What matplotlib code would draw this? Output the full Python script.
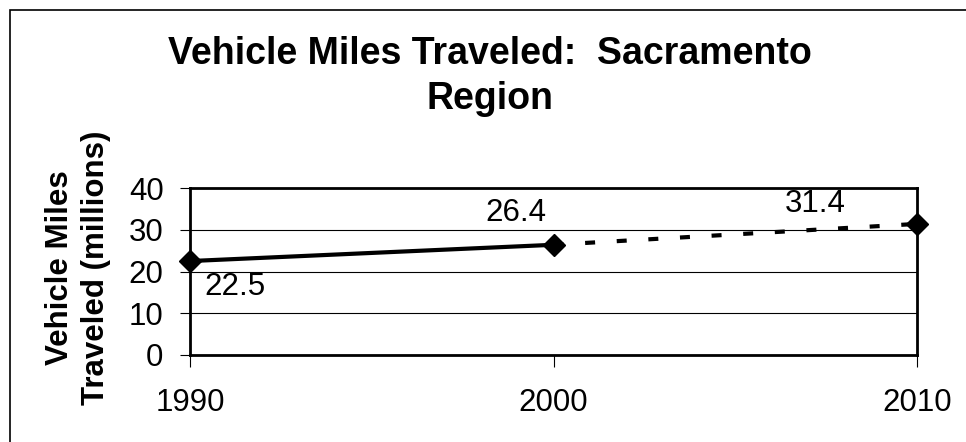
import matplotlib.pyplot as plt
from matplotlib.patches import Rectangle

plt.rcParams['font.family'] = ['Liberation Sans', 'DejaVu Sans']

# data
years = [1990, 2000, 2010]
vmt = [22.5, 26.4, 31.4]
labels = ['22.5', '26.4', '31.4']
label_offsets = [(32, -19), (-27, 23), (-73, 14)]

fig = plt.figure(figsize=(9.66, 4.42), dpi=100)
ax = fig.add_axes([190 / 966, 1 - 355 / 442, (917 - 190) / 966, (355 - 188) / 442])

# frame around the whole chart (right/bottom edges fall outside the image)
fig.patches.append(Rectangle((10 / 966, -0.2), 1.2, 1.2 - 10 / 442, transform=fig.transFigure,
                             fill=False, edgecolor='black', linewidth=1.2))

# actual (solid) and projected (dotted)
ax.plot(years[:2], vmt[:2], color='black', linewidth=3, solid_capstyle='butt', zorder=3)
ax.plot(years[1:], vmt[1:], color='black', linewidth=3, linestyle=(0, (2.4, 5.2)),
        dash_capstyle='butt', zorder=3)
ax.plot(years, vmt, linestyle='none', marker='D', markersize=11, color='black', zorder=4, clip_on=False)

for x, y, t, off in zip(years, vmt, labels, label_offsets):
    ax.annotate(t, (x, y), xytext=off, textcoords='offset points', ha='center', va='center',
                fontsize=22.5)

ax.set_xlim(1990, 2010)
ax.set_ylim(0, 40)
ax.set_xticks(years)
ax.set_yticks([0, 10, 20, 30, 40])
ax.yaxis.grid(True, color='black', linewidth=0.8)
ax.set_axisbelow(True)
for s in ax.spines.values():
    s.set_linewidth(2)
ax.tick_params(axis='x', direction='out', length=8.5, width=0.8, pad=15, labelsize=22.5)
ax.tick_params(axis='y', direction='out', length=7, width=0.8, pad=12, labelsize=22.5)

fig.text(490 / 966, 1 - 36 / 442, 'Vehicle Miles Traveled:  Sacramento\nRegion', ha='center', va='top',
         fontsize=27, fontweight='bold', linespacing=1.32)
fig.text(78 / 966, 1 - 268 / 442, 'Vehicle Miles\nTraveled (millions)', ha='center', va='center',
         rotation=90, fontsize=22.5, fontweight='bold', linespacing=1.3)

fig.savefig('out.png', dpi=100)
